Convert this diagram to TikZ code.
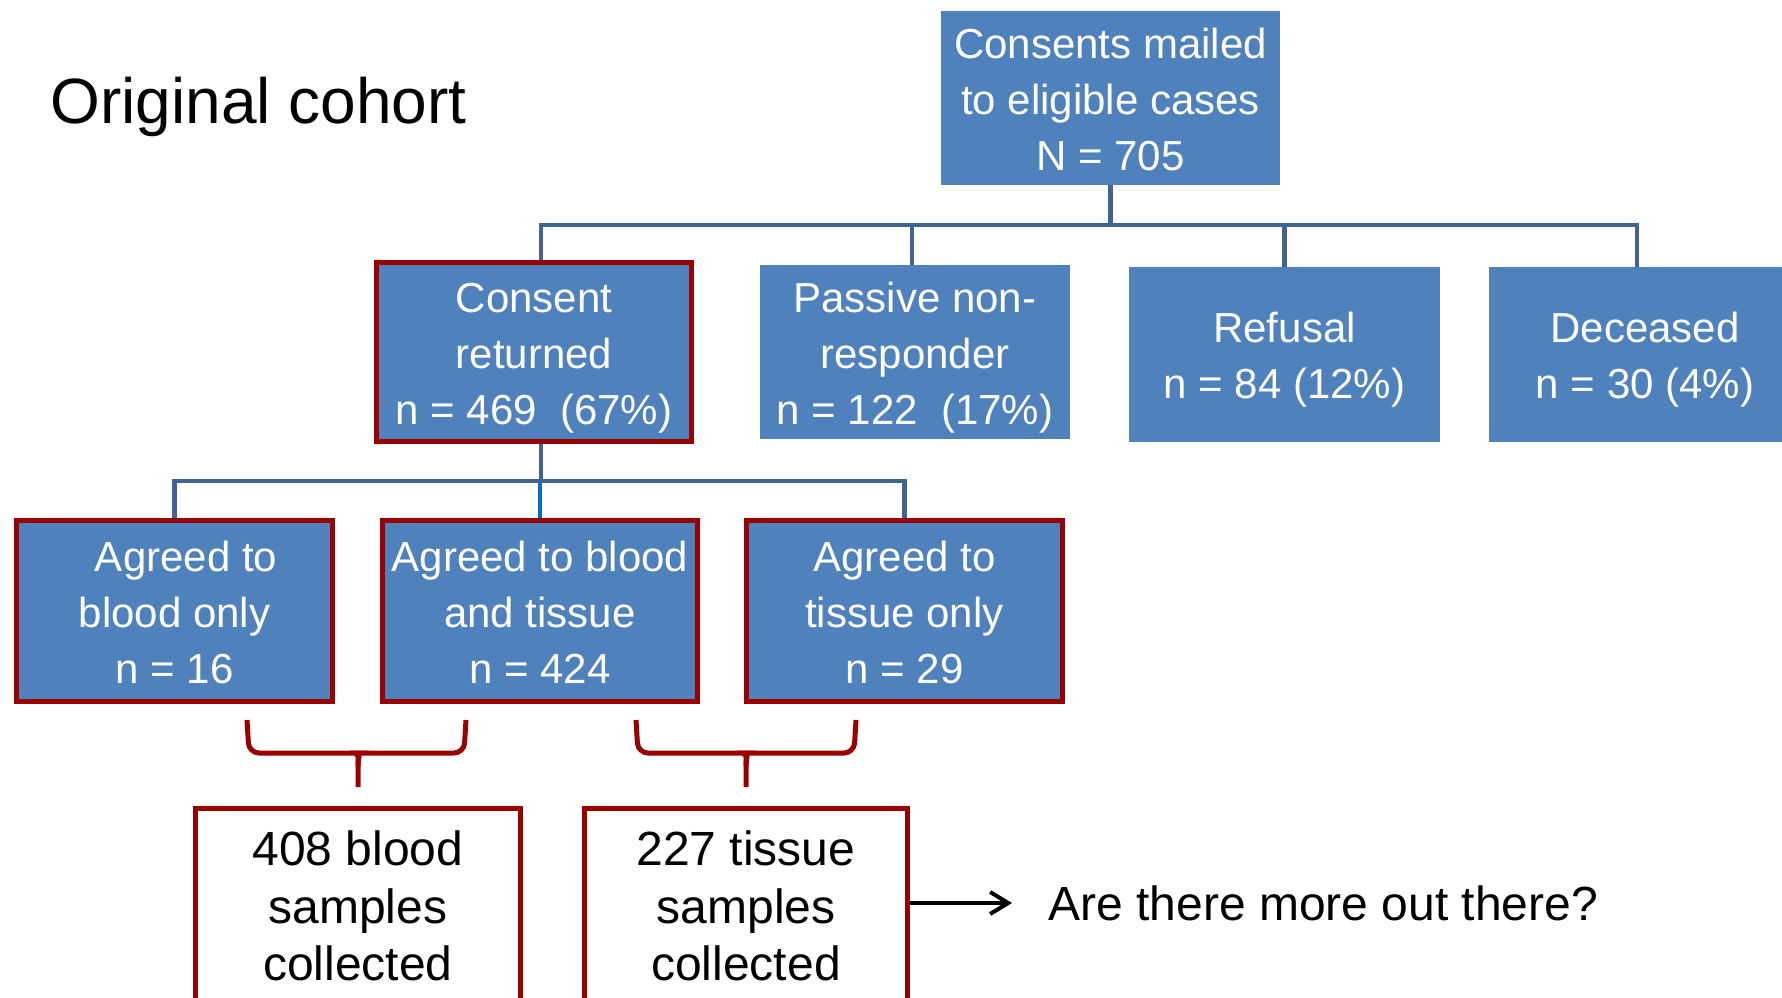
\documentclass[tikz,border=0pt]{standalone}
\usepackage{fontspec}
\setmainfont{Liberation Sans}
\usetikzlibrary{arrows.meta}
\definecolor{boxblue}{HTML}{4F81BD}
\definecolor{connblue}{RGB}{62,100,148}
\definecolor{stubblue}{HTML}{0070C0}
\definecolor{darkred}{HTML}{990000}
\newcommand\wT{\rule{0pt}{1.035em}}
\newcommand\bT{\rule{0pt}{1.13em}}
\newcommand\sB{\rule[-0.25em]{0pt}{0pt}}
\begin{document}
\begin{tikzpicture}[x=0.5pt,y=-0.5pt,
  bluebox/.style={rectangle, fill=boxblue, draw=none, inner sep=0pt, text=white, align=center, font=\fontsize{21pt}{28pt}\selectfont},
  redbox/.style={bluebox, draw=darkred, line width=2.75pt},
  whitebox/.style={rectangle, fill=white, draw=darkred, line width=2.75pt, inner sep=0pt},
  conn/.style={draw=connblue, line width=2.25pt},
  brace/.style={draw=darkred, line width=2.5pt, rounded corners=5pt},
  blacktext/.style={text=black, align=center, inner sep=0pt, font=\fontsize{24pt}{28.7pt}\selectfont}]
\clip (0,0) rectangle (1782,997);
\fill[white] (0,0) rectangle (1782,997);

% title
\node[anchor=base west, inner sep=0pt, font=\fontsize{32pt}{38pt}\selectfont] (title) at (50,123) {Original cohort};

% top box
\node[bluebox, minimum width=169.5pt, minimum height=87pt] (consents) at (1110.5,98)
  {\wT Consents mailed\\to eligible cases\\N = 705\sB};

% second row
\node[redbox, minimum width=157.5pt, minimum height=89.5pt] (returned) at (534,352)
  {\wT Consent\\returned\\n = 469\ \ (67\%)\sB};
\node[bluebox, minimum width=155pt, minimum height=87pt] (passive) at (915,352)
  {\wT Passive non-\\responder\\n = 122\ \ (17\%)\sB};
\node[bluebox, minimum width=155.5pt, minimum height=87.5pt] (refusal) at (1284.5,354.5)
  {\wT Refusal\\n = 84 (12\%)\sB};
\node[bluebox, minimum width=156pt, minimum height=87.5pt] (deceased) at (1645,354.5)
  {\wT Deceased\\n = 30 (4\%)\sB};

% third row
\node[redbox, minimum width=158pt, minimum height=90.5pt] (bonly) at (174.5,611)
  {\wT\hspace*{0.55em}Agreed to\\blood only\\n = 16\sB};
\node[redbox, minimum width=157.5pt, minimum height=90.5pt] (both) at (540,611)
  {\wT Agreed to blood\\and tissue\\n = 424\sB};
\node[redbox, minimum width=158pt, minimum height=90.5pt] (tonly) at (904.5,611)
  {\wT Agreed to\\tissue only\\n = 29\sB};

% bottom boxes
\node[whitebox, minimum width=162.5pt, minimum height=110.75pt] (bblood) at (358,919.25) {};
\node[whitebox, minimum width=161.5pt, minimum height=110.75pt] (btissue) at (746,919.25) {};
\node[blacktext] (bbloodtext) at (358,902) {\bT 408 blood\\samples\\collected\sB};
\node[blacktext] (btissuetext) at (746,902) {\bT 227 tissue\\samples\\collected\sB};

% upper connectors
\coordinate (bus1) at (0,225);
\coordinate (rtop) at ([xshift=3.5pt]returned.north);
\coordinate (ptop) at ([xshift=-1.5pt]passive.north);
\coordinate (dtop) at ([xshift=-4pt]deceased.north);
\draw[conn] (consents.south) -- (consents.south |- bus1);
\draw[conn] (rtop) |- (dtop |- bus1) -- (dtop);
\draw[conn] (ptop |- bus1) -- (ptop);
\draw[conn] (refusal.north |- bus1) -- (refusal.north);

% lower connectors
\coordinate (bus2) at (0,481);
\coordinate (rbot) at ([xshift=3.5pt]returned.south);
\draw[conn] (rbot) -- (rbot |- bus2);
\draw[conn] (bonly.north) |- (tonly.north |- bus2) -- (tonly.north);
\draw[stubblue, line width=2.25pt] ([yshift=-1.1pt]both.north |- bus2) -- (both.north);

% braces
\draw[brace] (247,720) -- (249,753) -- (348,753) .. controls (355,753) and (358,757) .. (358,766) -- (358,787);
\draw[brace] (466,720) -- (464,753) -- (368,753) .. controls (361,753) and (358,757) .. (358,766);
\draw[brace] (636,720) -- (638,753) -- (736,753) .. controls (743,753) and (746,757) .. (746,766) -- (746,787);
\draw[brace] (856,720) -- (854,753) -- (756,753) .. controls (749,753) and (746,757) .. (746,766);

% arrow and question
\coordinate (ay) at (0,903);
\coordinate (aend) at (1012,903);
\draw[line width=2pt, -{Straight Barb[length=9pt,width=11pt]}] (btissue.east |- ay) -- (aend);
\node[anchor=base west, inner sep=0pt, font=\fontsize{24pt}{28pt}\selectfont] (question) at (1048,920) {Are there more out there?};
\end{tikzpicture}
\end{document}
